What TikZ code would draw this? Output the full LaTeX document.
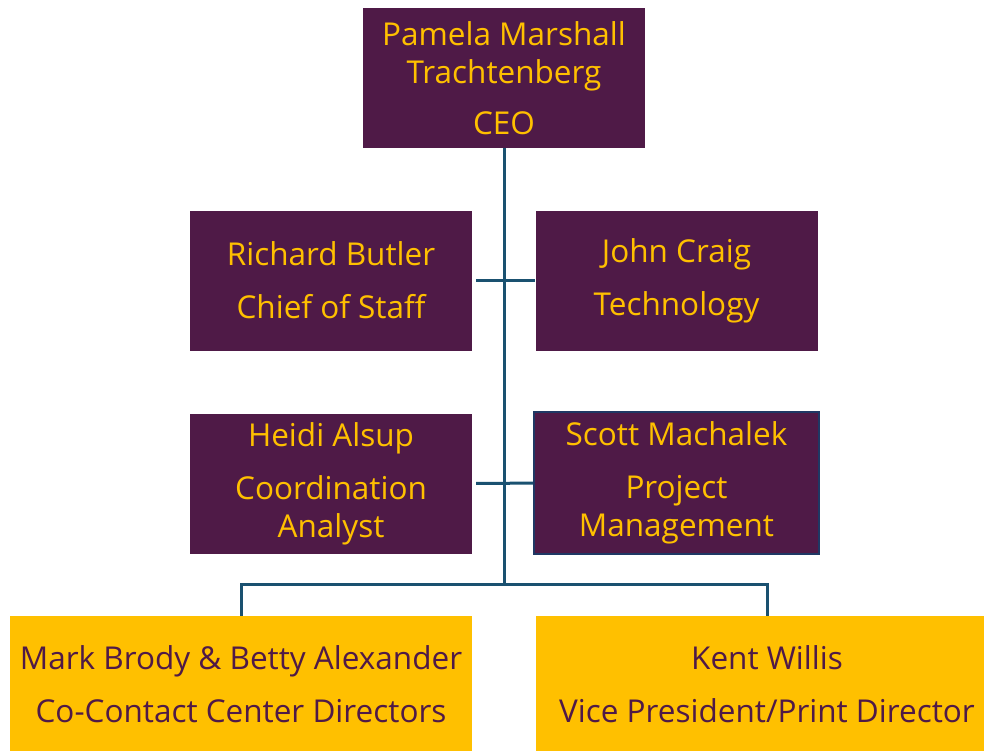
\documentclass[tikz,border=0pt]{standalone}
\usepackage{fontspec}
\setmainfont{Open Sans}
\usetikzlibrary{positioning}
\definecolor{plum}{HTML}{4F1A47}
\definecolor{gold}{HTML}{FFC000}
\definecolor{linkblue}{HTML}{1A5170}
\definecolor{navy}{HTML}{1F3864}

\begin{document}
\begin{tikzpicture}[x=1pt, y=-1pt,
  box/.style={fill=plum, text=gold, minimum width=282pt, minimum height=140pt, align=center, inner sep=0pt, font=\fontsize{31.5}{38}\selectfont},
  gold box/.style={box, fill=gold, text=plum, minimum width=462pt, minimum height=137pt},
  link/.style={draw=linkblue, line width=3pt}]
\clip (0,0) rectangle (984,750);
\node[box] (ceo) at (504,78) {Pamela Marshall\\Trachtenberg\\[13pt]CEO};
\node[box] (butler) at (331,280.5) {Richard Butler\\[15pt]Chief of Staff};
\node[box] (craig) at (676.5,280.5) {John Craig\\[15pt]Technology};
\node[box] (alsup) at (331,483.5) {Heidi Alsup\\[15pt]Coordination\\Analyst};
\node[box, draw=navy, line width=2pt, minimum width=285pt, minimum height=142pt] (machalek) at (676.5,483) {Scott Machalek\\[15pt]Project\\Management};
\node[gold box] (brody) at (241,684.5) {Mark Brody \& Betty Alexander\\[15pt]Co-Contact Center Directors};
\node[gold box] (willis) at (767,684.5) {Kent Willis\\[15pt]Vice President/Print Director};
\coordinate (bus) at (504,584);
\draw[link] (ceo) -- (bus);
\draw[link, shorten <=4pt] (butler) -- (craig);
\draw[link, shorten <=4pt] (alsup) -- (machalek);
\draw[link] (brody.north) |- (bus) -| (willis.north);
\end{tikzpicture}
\end{document}
